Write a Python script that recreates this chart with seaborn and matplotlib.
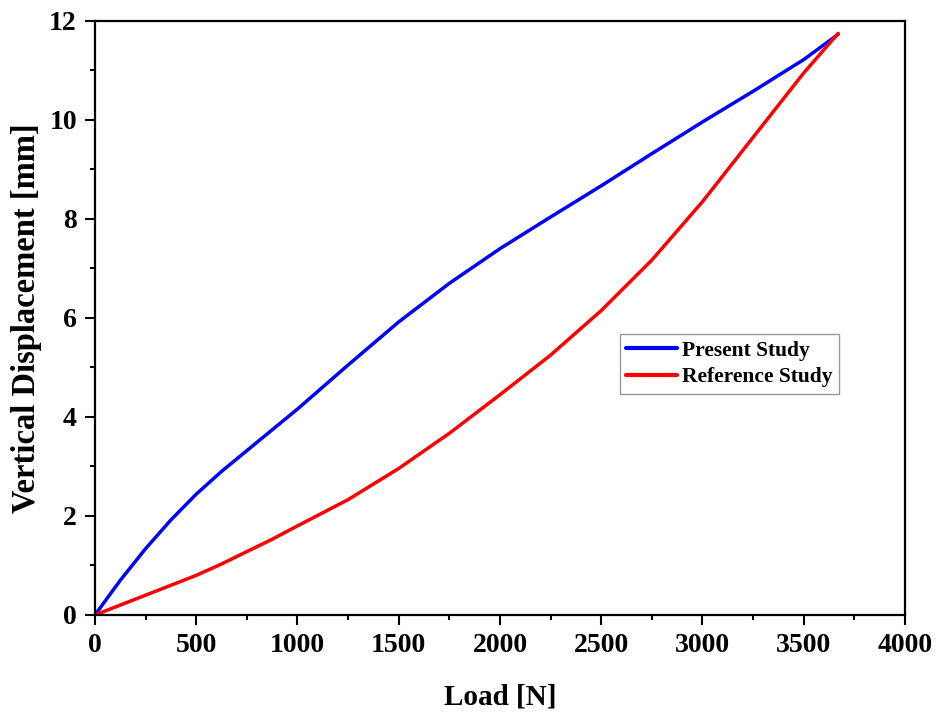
import numpy as np
import pandas as pd
import matplotlib
matplotlib.use('Agg')
import matplotlib.pyplot as plt
import seaborn as sns
from matplotlib.ticker import MultipleLocator

# Values
present_load = [0, 125, 250, 375, 500, 625, 750, 875, 1000, 1250, 1500, 1750,
                2000, 2250, 2500, 2750, 3000, 3250, 3500, 3670]
present_study = [0, 0.7, 1.34, 1.92, 2.44, 2.9, 3.32, 3.74, 4.16, 5.05, 5.92, 6.7,
                 7.4, 8.04, 8.67, 9.32, 9.96, 10.58, 11.22, 11.73]
reference_load = [0, 125, 250, 375, 500, 625, 750, 875, 1000, 1250, 1500, 1750,
                  2000, 2250, 2500, 2750, 3000, 3250, 3500, 3670]
reference_study = [0, 0.2, 0.4, 0.6, 0.8, 1.03, 1.28, 1.53, 1.8, 2.33, 2.96, 3.67,
                   4.45, 5.25, 6.15, 7.17, 8.35, 9.65, 10.95, 11.75]

df = pd.DataFrame({
    'Load': present_load + reference_load,
    'Displacement': present_study + reference_study,
    'Series': ['Present Study'] * len(present_load) + ['Reference Study'] * len(reference_load),
})

sns.set_theme(style='ticks')
plt.rcParams['font.family'] = ['Liberation Serif', 'DejaVu Serif']
plt.rcParams['font.weight'] = 'bold'
for key in ['text.color', 'axes.labelcolor', 'xtick.color', 'ytick.color', 'axes.edgecolor']:
    plt.rcParams[key] = 'black'

fig = plt.figure(figsize=(9.43, 7.18), dpi=100)
ax = fig.add_axes([0.1007, 0.1435, 0.859, 0.8273])

sns.lineplot(data=df, x='Load', y='Displacement', hue='Series',
             palette={'Present Study': '#0000ff', 'Reference Study': '#ff0000'},
             linewidth=2.5, ax=ax, sort=False)

ax.set_xlim(0, 4000)
ax.set_ylim(0, 12)
ax.xaxis.set_major_locator(MultipleLocator(500))
ax.xaxis.set_minor_locator(MultipleLocator(250))
ax.yaxis.set_major_locator(MultipleLocator(2))
ax.yaxis.set_minor_locator(MultipleLocator(1))

for s in ax.spines.values():
    s.set_linewidth(1.6)
    s.set_color('black')
ax.tick_params(which='major', length=7, width=1.5, direction='out',
               labelsize=20, colors='black')
ax.tick_params(axis='y', which='major', pad=6)
ax.tick_params(axis='x', which='major', pad=6)
ax.tick_params(which='minor', length=3.5, width=1.5, direction='out')
for lab in ax.get_xticklabels() + ax.get_yticklabels():
    lab.set_fontweight('bold')

ax.set_xlabel('Load [N]', fontsize=21, fontweight='bold', labelpad=18)
ax.set_ylabel('Vertical Displacement [mm]', fontsize=23.5, fontweight='bold', labelpad=5)

leg = ax.legend(loc='upper left', bbox_to_anchor=(0.648, 0.473), borderaxespad=0,
                fancybox=False, frameon=True, handlelength=2.35, handletextpad=0.25,
                borderpad=0.3, labelspacing=0.3, prop={'size': 15.5, 'weight': 'bold'})
leg.get_frame().set_edgecolor('#808080')
leg.get_frame().set_linewidth(1.0)
for line in leg.get_lines():
    line.set_linewidth(3.0)

fig.savefig('out.png', dpi=100)
